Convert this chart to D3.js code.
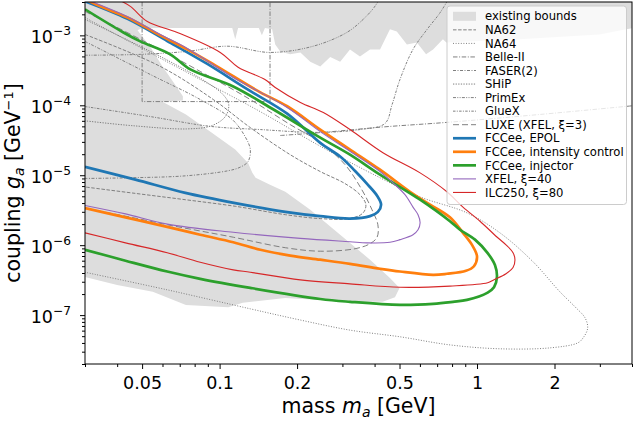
<!DOCTYPE html>
<html><head><meta charset="utf-8">
<script src="https://cdn.jsdelivr.net/npm/d3@7"></script>
<style>
body{margin:0;background:#fff}
svg{display:block}
text{font-family:"DejaVu Sans",sans-serif}
</style>
</head><body>
<svg id="c" width="634" height="421"></svg>
<script>
// ---------- axis ticks ----------
const xTicks = [0.05, 0.1, 0.2, 0.5, 1, 2];
const xTickLabels = ["0.05", "0.1", "0.2", "0.5", "1", "2"];
const xMinorTicks = [0.03,0.04,0.06,0.07,0.08,0.09,0.3,0.4,0.6,0.7,0.8,0.9,3,4];
const yTicks = [1e-7, 1e-6, 1e-5, 1e-4, 1e-3];
const yTickExps = ["−7", "−6", "−5", "−4", "−3"];
const yMinorTicks = [2e-8,3e-8,4e-8,5e-8,6e-8,7e-8,8e-8,9e-8,2e-7,3e-7,4e-7,5e-7,6e-7,7e-7,8e-7,9e-7,
  2e-6,3e-6,4e-6,5e-6,6e-6,7e-6,8e-6,9e-6,2e-5,3e-5,4e-5,5e-5,6e-5,7e-5,8e-5,9e-5,
  2e-4,3e-4,4e-4,5e-4,6e-4,7e-4,8e-4,9e-4,2e-3,3e-3];

// ---------- data: [mass GeV, coupling GeV^-1] ----------
const existingBounds = [[0.028,4e-3],[4.2,4e-3],[4.2,1.3e-3],[3.8,1.22e-3],[3.0,1.03e-3],[1.47,8.8e-4],[0.76,7.9e-4],[0.737,8.8e-4],[0.675,6.3e-4],[0.634,5.35e-4],[0.584,7.9e-4],[0.534,7.4e-4],[0.488,1.14e-3],[0.459,1.22e-3],[0.420,6.3e-4],[0.384,6.3e-4],[0.351,5.0e-4],[0.321,6.3e-4],[0.294,4.2e-4],[0.269,4.9e-4],[0.246,3.6e-4],[0.225,4.2e-4],[0.206,5.7e-4],[0.188,5.35e-4],[0.172,5.9e-4],[0.1645,7.4e-4],[0.160,1.22e-3],[0.150,1.27e-3],[0.146,1.0e-3],[0.142,1.27e-3],[0.118,1.27e-3],[0.115,8.8e-4],[0.112,1.27e-3],[0.050,1.27e-3],[0.048,1.18e-3],[0.054,6.7e-4],[0.060,3.6e-4],[0.067,2.0e-4],[0.072,1.35e-4],[0.072,1.17e-4],[0.060,1.12e-4],[0.074,7.4e-5],[0.093,4.1e-5],[0.115,2.33e-5],[0.129,1.5e-5],[0.134,1.09e-5],[0.138,9.2e-6],[0.157,7.3e-6],[0.180,5.8e-6],[0.225,3.2e-6],[0.294,1.41e-6],[0.384,6.2e-7],[0.459,3.4e-7],[0.50,2.45e-7],[0.48,1.8e-7],[0.43,1.55e-7],[0.351,1.55e-7],[0.246,1.65e-7],[0.180,1.75e-7],[0.123,1.5e-7],[0.108,1.3e-7],[0.074,1.4e-7],[0.055,2.15e-7],[0.040,2.7e-7],[0.030,3.5e-7],[0.028,3.6e-7]];

const na62 = [[0.030,1.03e-3],[0.0588,3.6e-4],[0.0945,1.21e-4],[0.1316,4.8e-5],[0.188,1.97e-5],[0.246,1.13e-5],[0.307,7.6e-6],[0.351,5.27e-6],[0.370,3.8e-6],[0.361,2.9e-6],[0.321,2.4e-6],[0.246,2.4e-6],[0.180,2.73e-6],[0.115,3.6e-6],[0.0736,4.47e-6],[0.0471,5.5e-6],[0.030,6.8e-6]];
const na64 = [[0.030,1.8e-3],[0.0492,6.7e-4],[0.0841,2.34e-4],[0.144,8.1e-5],[0.246,2.6e-5],[0.420,9.2e-6],[0.601,4.9e-6],[0.914,2.9e-6],[1.228,1.5e-6],[1.65,5.8e-7],[2.10,2.15e-7],[2.41,1.3e-7],[2.63,9.1e-8],[2.69,6.5e-8],[2.58,4.7e-8],[2.46,4.0e-8],[1.92,3.4e-8],[1.228,3.3e-8],[0.785,3.75e-8],[0.502,4.9e-8],[0.321,6.1e-8],[0.206,8.5e-8],[0.1316,1.23e-7],[0.0626,2.3e-7],[0.030,4.1e-7]];
const belle2 = [[0.172,3.7e-5],[0.253,4.1e-5],[0.431,4.9e-5],[0.764,5.7e-5],[1.756,7.4e-5],[4.2,1.0e-4]];
const belle2Box = [[0.050,4e-3],[0.050,1.13e-4],[0.157,1.13e-4],[0.157,4e-3]];
const faser2 = [[0.030,8.2e-4],[0.0538,2.76e-4],[0.0841,1.21e-4],[0.112,6.26e-5],[0.126,3.5e-5],[0.1316,2.33e-5],[0.129,1.57e-5],[0.120,1.3e-5],[0.108,1.16e-5],[0.0736,9.8e-6],[0.045,9.2e-6],[0.030,9.0e-6]];
const ship = [[0.030,1.69e-3],[0.045,8.2e-4],[0.0643,4.2e-4],[0.088,2.2e-4],[0.103,1.43e-4],[0.1085,1.03e-4],[0.1052,6.9e-5],[0.093,5.1e-5],[0.0749,4.6e-5],[0.0462,5.1e-5],[0.030,6.0e-5]];
const primex = [[0.030,5.2e-4],[0.0492,5.35e-4],[0.0749,5.9e-4],[0.107,7.0e-4],[0.1573,5.7e-4],[0.231,7.0e-4],[0.312,1.1e-3],[0.361,1.69e-3],[0.398,2.5e-3],[0.424,3.6e-3]];
const gluex = [[0.030,9.6e-5],[0.0538,6.9e-5],[0.092,5.0e-5],[0.144,4.5e-5],[0.240,4.1e-5],[0.351,4.5e-5],[0.439,5.5e-5],[0.468,1.03e-4],[0.502,2.34e-4],[0.564,6.3e-4],[0.640,1.22e-3],[0.718,2.1e-3],[0.785,3.6e-3]];
const luxe = [[0.030,2.2e-3],[0.0492,8.8e-4],[0.0841,3.05e-4],[0.1316,1.21e-4],[0.188,5.3e-5],[0.246,2.95e-5],[0.307,1.42e-5],[0.357,6.2e-6],[0.391,3.2e-6],[0.412,1.96e-6],[0.409,1.3e-6],[0.384,1.05e-6],[0.336,8.9e-7],[0.246,8.2e-7],[0.180,9.2e-7],[0.113,1.3e-6],[0.0626,1.96e-6],[0.0431,2.6e-6],[0.030,3.35e-6]];

const fccEpol = [[0.030,3.07e-3],[0.0439,1.72e-3],[0.0626,8.3e-4],[0.0896,3.9e-4],[0.128,1.7e-4],[0.183,7.6e-5],[0.246,2.9e-5],[0.294,1.85e-5],[0.336,1.15e-5],[0.377,7.3e-6],[0.409,5.1e-6],[0.424,3.8e-6],[0.412,3.0e-6],[0.384,2.6e-6],[0.321,2.4e-6],[0.246,2.6e-6],[0.180,3.0e-6],[0.115,4.0e-6],[0.0736,5.6e-6],[0.0471,8.65e-6],[0.030,1.32e-5]];
const fccIntensity = [[0.030,3.3e-3],[0.0344,2.6e-3],[0.0439,1.8e-3],[0.0588,1.0e-3],[0.0749,6.3e-4],[0.092,4.1e-4],[0.113,2.6e-4],[0.144,1.53e-4],[0.183,9.7e-5],[0.246,4.5e-5],[0.321,2.33e-5],[0.420,1.2e-5],[0.549,5.8e-6],[0.657,3.8e-6],[0.785,2.5e-6],[0.882,1.5e-6],[0.956,1.01e-6],[1.0,6.9e-7],[0.973,5.0e-7],[0.906,4.3e-7],[0.764,3.9e-7],[0.675,3.77e-7],[0.502,4.2e-7],[0.420,4.6e-7],[0.321,5.4e-7],[0.246,6.2e-7],[0.188,7.1e-7],[0.144,8.6e-7],[0.113,1.1e-6],[0.0841,1.41e-6],[0.0626,1.83e-6],[0.0431,2.5e-6],[0.030,3.4e-6]];
const fccInjector = [[0.030,2.36e-3],[0.0423,1.1e-3],[0.0492,8.2e-4],[0.0643,5.35e-4],[0.077,3.26e-4],[0.113,1.86e-4],[0.162,8.7e-5],[0.246,3.45e-5],[0.321,1.97e-5],[0.420,1.02e-5],[0.601,4.47e-6],[0.785,2.2e-6],[0.859,1.66e-6],[0.982,1.2e-6],[1.10,7.7e-7],[1.174,5.2e-7],[1.195,3.5e-7],[1.164,2.5e-7],[1.10,2.1e-7],[0.914,1.65e-7],[0.806,1.55e-7],[0.675,1.45e-7],[0.502,1.40e-7],[0.321,1.55e-7],[0.246,1.7e-7],[0.1316,2.45e-7],[0.0841,3.3e-7],[0.0626,4.2e-7],[0.0431,6.0e-7],[0.030,8.6e-7]];
const xfel40 = [[0.030,3.3e-3],[0.0439,1.85e-3],[0.0588,1.03e-3],[0.0749,6.5e-4],[0.113,2.5e-4],[0.183,9.3e-5],[0.246,4.2e-5],[0.321,2.2e-5],[0.420,1.13e-5],[0.471,7.8e-6],[0.525,5.27e-6],[0.564,3.5e-6],[0.590,2.73e-6],[0.601,2.1e-6],[0.590,1.66e-6],[0.564,1.41e-6],[0.502,1.2e-6],[0.459,1.1e-6],[0.374,1.08e-6],[0.321,1.12e-6],[0.206,1.25e-6],[0.113,1.53e-6],[0.0626,2.0e-6],[0.0431,2.8e-6],[0.030,3.7e-6]];
const ilc80 = [[0.040,3.3e-3],[0.045,2.6e-3],[0.0524,1.58e-3],[0.0685,1.1e-3],[0.1006,5.7e-4],[0.118,3.5e-4],[0.150,2.34e-4],[0.1645,1.8e-4],[0.206,1.1e-4],[0.253,7.9e-5],[0.321,4.5e-5],[0.431,2.1e-5],[0.601,1.08e-5],[0.764,5.8e-6],[0.882,3.5e-6],[1.027,2.2e-6],[1.195,1.31e-6],[1.296,1.01e-6],[1.38,7.8e-7],[1.404,6.2e-7],[1.38,4.8e-7],[1.296,3.9e-7],[1.16,3.19e-7],[1.10,2.9e-7],[0.785,2.6e-7],[0.502,2.5e-7],[0.321,2.8e-7],[0.206,3.19e-7],[0.1316,4.1e-7],[0.113,4.44e-7],[0.0841,5.7e-7],[0.0626,7.8e-7],[0.0431,1.08e-6],[0.030,1.5e-6]];

const legendLabels = ["existing bounds","NA62","NA64","Belle-II","FASER(2)","SHiP","PrimEx","GlueX",
  "LUXE (XFEL, ξ=3)","FCCee, EPOL","FCCee, intensity control","FCCee, injector","XFEL, ξ=40","ILC250, ξ=80"];

// ---------- styles ----------
const GREY = "#7f7f7f";
const series = [
  {data: na62, color: GREY, w: 1, dash: "3.5,1.6", label: 1},
  {data: na64, color: GREY, w: 1, dash: "1,1.6", label: 2},
  {data: belle2, color: GREY, w: 1, dash: "4.5,1.6,1,1.6", label: 3},
  {data: belle2Box, color: GREY, w: 1, dash: "4.5,1.6,1,1.6", linear: true},
  {data: faser2, color: GREY, w: 1, dash: "3,1.5,1,1.5", label: 4},
  {data: ship, color: GREY, w: 1, dash: "1.3,1.3", label: 5},
  {data: primex, color: GREY, w: 1, dash: "3,1.3,1,1.3,1,1.3", label: 6},
  {data: gluex, color: GREY, w: 1, dash: "2.5,1.3,1,1.3", label: 7},
  {data: luxe, color: GREY, w: 1, dash: "6,3", label: 8},
  {data: fccEpol, color: "#1f77b4", w: 2.7, dash: null, label: 9},
  {data: fccIntensity, color: "#ff7f0e", w: 2.7, dash: null, label: 10},
  {data: fccInjector, color: "#2ca02c", w: 2.7, dash: null, label: 11},
  {data: xfel40, color: "#9467bd", w: 1.1, dash: null, label: 12},
  {data: ilc80, color: "#d62728", w: 1.1, dash: null, label: 13}
];

// ---------- layout ----------
const L = 85, R = 632, T = 2, B = 364;
const svg = d3.select("#c");
const x = d3.scaleLog().domain([0.03, 4]).range([L, R]);
const y = d3.scaleLog().domain([2e-8, 3e-3]).range([B, T]);

svg.append("defs").append("clipPath").attr("id", "clip")
  .append("rect").attr("x", L).attr("y", T).attr("width", R - L).attr("height", B - T);

const plot = svg.append("g").attr("clip-path", "url(#clip)");

plot.append("path")
  .attr("d", d3.line().x(d => x(d[0])).y(d => y(d[1]))(existingBounds) + "Z")
  .attr("fill", "#dddddd").attr("stroke", "none");

const smooth = d3.line().x(d => x(d[0])).y(d => y(d[1])).curve(d3.curveCatmullRom.alpha(0.5));
const straight = d3.line().x(d => x(d[0])).y(d => y(d[1]));

series.forEach(s => {
  plot.append("path")
    .attr("d", (s.linear ? straight : smooth)(s.data))
    .attr("fill", "none").attr("stroke", s.color).attr("stroke-width", s.w)
    .attr("stroke-dasharray", s.dash).attr("stroke-linejoin", "round");
});

// ---------- axes ----------
const fs = 17.5;
const xAxis = svg.append("g").attr("transform", `translate(0,${B})`)
  .call(d3.axisBottom(x).tickValues(xTicks).tickFormat((d, i) => xTickLabels[i]).tickSize(5).tickPadding(8));
svg.append("g").attr("transform", `translate(0,${B})`)
  .call(d3.axisBottom(x).tickValues(xMinorTicks).tickFormat("").tickSize(3));
const yAxis = svg.append("g").attr("transform", `translate(${L},0)`)
  .call(d3.axisLeft(y).tickValues(yTicks).tickFormat("").tickSize(5));
svg.append("g").attr("transform", `translate(${L},0)`)
  .call(d3.axisLeft(y).tickValues(yMinorTicks).tickFormat("").tickSize(3));
svg.selectAll(".domain").remove();
svg.selectAll(".tick line").attr("stroke", "#000").attr("stroke-width", 1);
xAxis.selectAll(".tick text").attr("font-size", fs).attr("fill", "#000")
  .attr("font-family", "DejaVu Sans");

yAxis.selectAll(".tick").each(function(d, i) {
  const t = d3.select(this).append("text")
    .attr("x", -14).attr("y", 7).attr("text-anchor", "end")
    .attr("font-size", fs).attr("fill", "#000");
  t.append("tspan").text("10");
  t.append("tspan").attr("font-size", fs * 0.7).attr("dy", -8).text(yTickExps[i]);
});

svg.append("rect").attr("x", L).attr("y", T).attr("width", R - L).attr("height", B - T)
  .attr("fill", "none").attr("stroke", "#000").attr("stroke-width", 1);

// axis labels
const xl = svg.append("text").attr("x", (L + R) / 2).attr("y", 413).attr("text-anchor", "middle")
  .attr("font-size", 20.5);
xl.append("tspan").text("mass ");
xl.append("tspan").attr("font-style", "italic").text("m");
xl.append("tspan").attr("font-style", "italic").attr("font-size", 14).attr("dy", 4).text("a");
xl.append("tspan").attr("dy", -4).text(" [GeV]");

const yl = svg.append("text").attr("transform", `translate(19.5,${(T + B) / 2}) rotate(-90)`)
  .attr("text-anchor", "middle").attr("font-size", 20.5);
yl.append("tspan").text("coupling ");
yl.append("tspan").attr("font-style", "italic").text("g");
yl.append("tspan").attr("font-style", "italic").attr("font-size", 14).attr("dy", 4).text("a");
yl.append("tspan").attr("dy", -4).text(" [GeV");
yl.append("tspan").attr("font-size", 13).attr("dy", -7).text("−1");
yl.append("tspan").attr("dy", 7).text("]");

// ---------- legend ----------
const lg = svg.append("g");
lg.append("rect").attr("x", 447).attr("y", 6).attr("width", 179.5).attr("height", 198.5)
  .attr("rx", 3).attr("fill", "#fff").attr("fill-opacity", 0.8)
  .attr("stroke", "#cccccc").attr("stroke-width", 1);
const rowY = i => 16.3 + i * 13.55;
legendLabels.forEach((lab, i) => {
  const cy = rowY(i);
  if (i === 0) {
    lg.append("rect").attr("x", 453).attr("y", cy - 4.5).attr("width", 23).attr("height", 9)
      .attr("fill", "#dddddd");
  } else {
    const s = series.find(q => q.label === i);
    lg.append("line").attr("x1", 453).attr("x2", 476).attr("y1", cy).attr("y2", cy)
      .attr("stroke", s.color).attr("stroke-width", s.w).attr("stroke-dasharray", s.dash);
  }
  lg.append("text").attr("x", 485).attr("y", cy).attr("dy", "0.36em")
    .attr("font-size", 11.6).attr("fill", "#000").text(lab);
});
</script>
</body></html>
